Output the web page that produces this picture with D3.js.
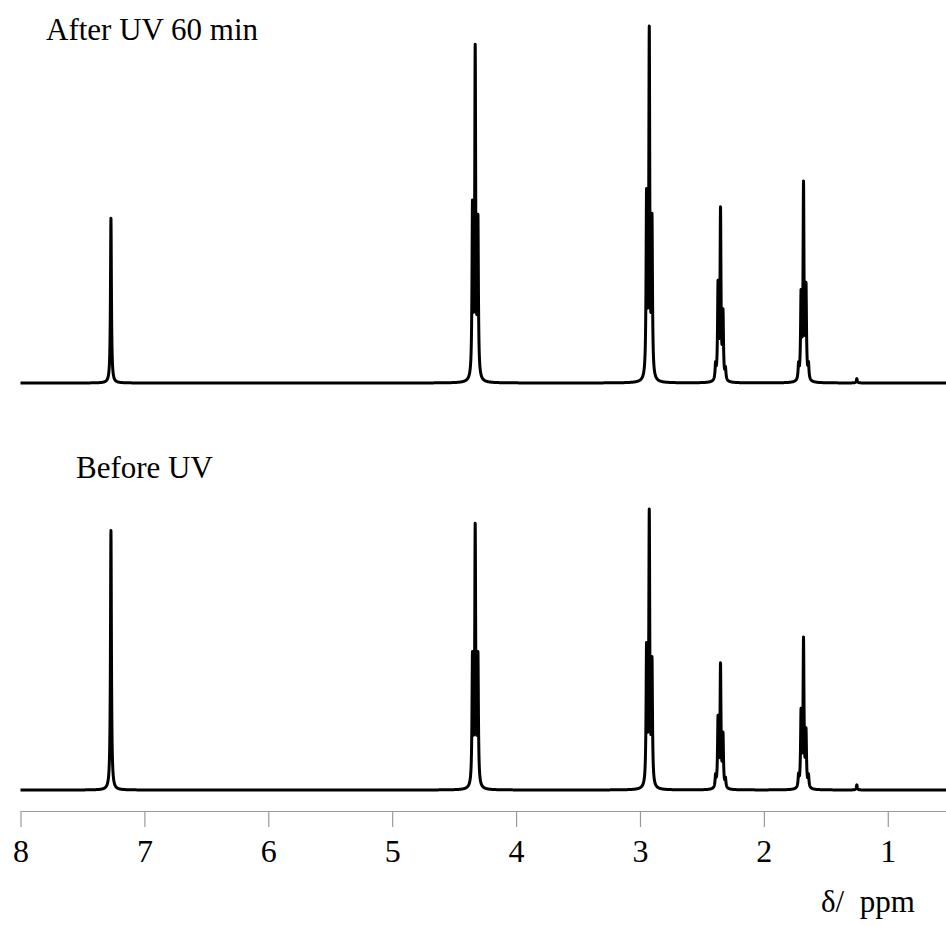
<!DOCTYPE html>
<html>
<head>
<meta charset="utf-8">
<script src="https://cdn.jsdelivr.net/npm/d3@7/dist/d3.min.js"></script>
<style>
    body { margin: 0; background: #fff; }
    text { font-family: "Liberation Serif", "Times New Roman", serif; }
</style>
</head>
<body>
<svg id="chart" width="946" height="926"></svg>
<script>
// individual lines of each spectrum (ppm), heights relative to the tallest line
var afterPpm    = [7.27, 4.352, 4.330, 4.308, 2.947, 2.925, 2.903, 2.390, 2.370, 2.350, 2.330, 2.310, 1.720, 1.700, 1.680, 1.660, 1.640, 1.25];
var afterHeight = [0.46, 0.47,  0.91,  0.43,  0.50,  0.96,  0.43,  0.04,  0.26,  0.47,  0.18,  0.03,  0.04,  0.23,  0.54,  0.25,  0.04,  0.012];

var beforePpm    = [7.27, 4.352, 4.330, 4.308, 2.947, 2.925, 2.903, 2.390, 2.370, 2.350, 2.330, 2.310, 1.720, 1.700, 1.680, 1.660, 1.640, 1.25];
var beforeHeight = [0.92, 0.45,  0.91,  0.45,  0.48,  0.96,  0.43,  0.04,  0.24,  0.43,  0.18,  0.03,  0.04,  0.26,  0.52,  0.19,  0.04,  0.018];

var traceLabels = ["After UV 60 min", "Before UV"];
var tickValues = [8, 7, 6, 5, 4, 3, 2, 1];
var axisTitle = "\u03b4/  ppm";

var hwhm = 0.0045; // line half width, ppm

var svg = d3.select("#chart");

let x = d3.scaleLinear().domain([8, 0.53]).range([20.5, 946]);

// each panel: baseline and where height 1.0 lands
let panels = [
    {ppm: afterPpm, h: afterHeight, label: traceLabels[0], y: d3.scaleLinear().domain([0, 1]).range([383, 25]), lx: 46, ly: 40},
    {ppm: beforePpm, h: beforeHeight, label: traceLabels[1], y: d3.scaleLinear().domain([0, 1]).range([790, 508]), lx: 76, ly: 478}
];

function spectrum(ppm, h) {
    let pts = [];
    for (let d = 8; d >= 0.53; d -= 0.0005) {
        let s = 0;
        for (let i = 0; i < ppm.length; i++) {
            let dx = d - ppm[i];
            s += h[i] * hwhm * hwhm / (dx * dx + hwhm * hwhm);
        }
        pts.push([d, s]);
    }
    return pts;
}

panels.forEach(function (p) {
    let line = d3.line()
        .x(function (d) { return x(d[0]); })
        .y(function (d) { return p.y(d[1]); });

    svg.append("path")
        .datum(spectrum(p.ppm, p.h))
        .attr("d", line)
        .attr("fill", "none")
        .attr("stroke", "#000")
        .attr("stroke-width", 3)
        .attr("stroke-linejoin", "round");

    svg.append("text")
        .attr("x", p.lx)
        .attr("y", p.ly)
        .attr("font-size", 31)
        .attr("fill", "#000")
        .text(p.label);
});

// ppm axis
let axis = svg.append("g")
    .attr("transform", "translate(0,811)")
    .call(d3.axisBottom(x).tickValues(tickValues).tickFormat(d3.format("d")).tickSize(16).tickSizeOuter(0));
axis.select(".domain").attr("stroke", "#999").attr("stroke-width", 1.2);
axis.selectAll(".tick line").attr("stroke", "#999").attr("stroke-width", 1.2);
axis.selectAll(".tick text")
    .attr("y", 51)
    .attr("dy", null)
    .attr("font-size", 32)
    .attr("fill", "#000")
    .style("font-family", "'Liberation Serif', serif");

svg.append("text")
    .attr("x", 821)
    .attr("y", 912)
    .attr("font-size", 31)
    .attr("fill", "#000")
    .attr("xml:space", "preserve")
    .style("white-space", "pre")
    .text(axisTitle);
</script>
</body>
</html>
